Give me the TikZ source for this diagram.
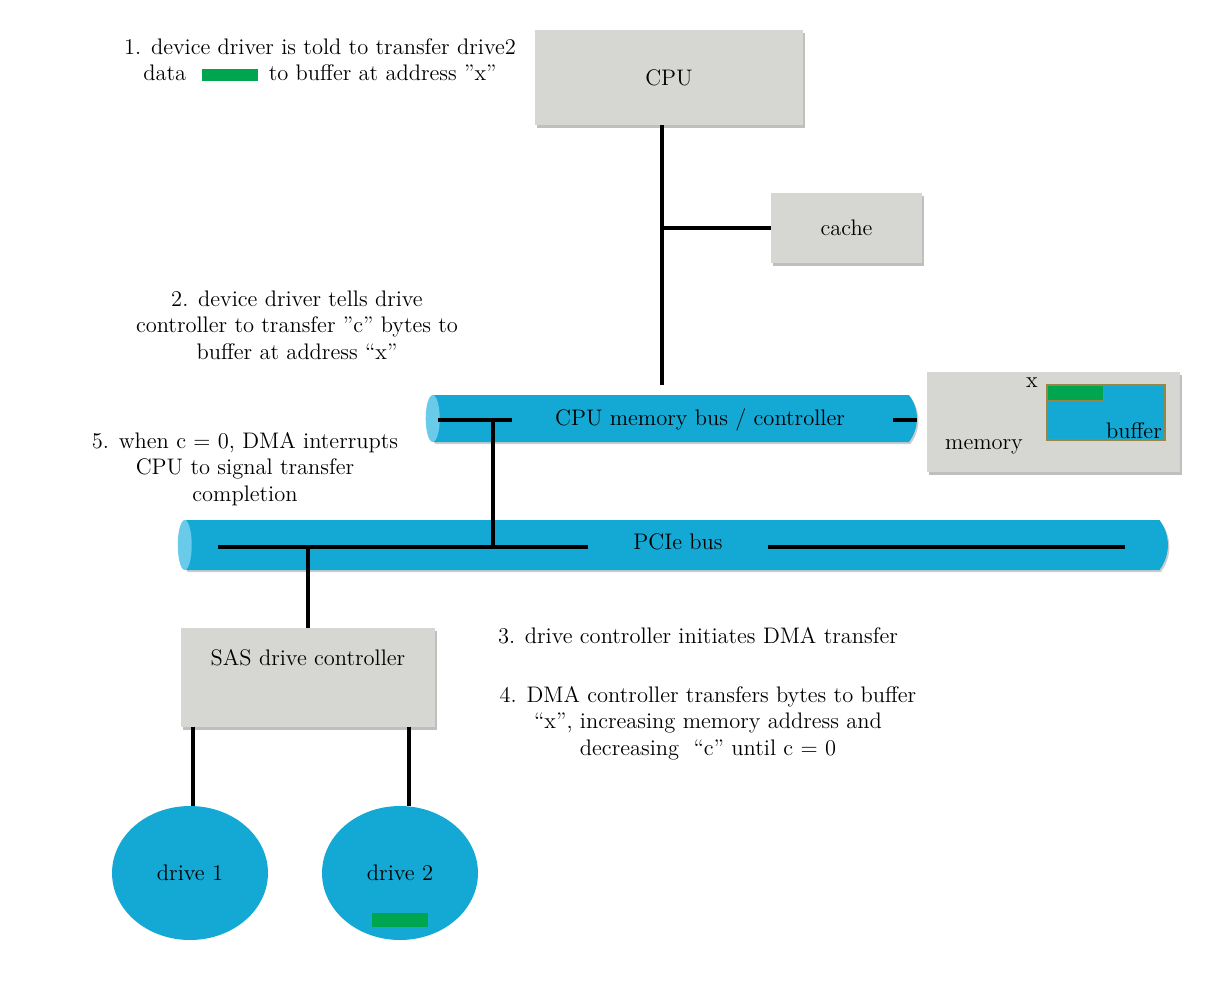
\documentclass[tikz,border=0pt]{standalone}
\usepackage{fontspec}
\usepackage{tikz}
\usetikzlibrary{shapes.geometric,shapes.misc,shadows}
\definecolor{busblue}{RGB}{20,168,212}
\definecolor{capblue}{RGB}{105,202,234}
\definecolor{boxgray}{RGB}{214,214,210}
\definecolor{datagreen}{RGB}{0,165,80}
\definecolor{bufedge}{RGB}{150,135,70}

\begin{document}
\begin{tikzpicture}[
                x=0.02cm, y=-0.02cm,
                font=\fontsize{12.8}{15}\selectfont,
                unit/.style={rectangle,fill=boxgray,drop shadow={shadow xshift=1.2pt,shadow yshift=-1.5pt,fill=black,opacity=0.25}},
                bus/.style={rounded rectangle,rounded rectangle arc length=75,fill=busblue,inner sep=0pt,drop shadow={shadow xshift=0.8pt,shadow yshift=-1.2pt,fill=black,opacity=0.2}},
                busend/.style={fill=capblue},
                drive/.style={ellipse,fill=busblue,minimum width=3.12cm,minimum height=2.68cm},
                chip/.style={rectangle,fill=datagreen,inner sep=0pt,minimum width=1.14cm,minimum height=0.28cm},
                wire/.style={line width=1.8pt},
                note/.style={align=center}
            ]
                \useasboundingbox (0,0) rectangle (1211,985);
                \node[bus,minimum width=9.82cm,minimum height=0.94cm] (membus) at (671.5,418.5) {};
                \node[bus,minimum width=19.8cm,minimum height=1cm] (pcie) at (673,545) {};
                \fill[busend] ([xshift=0.14cm]membus.west) ellipse [x radius=0.14cm, y radius=0.47cm];
                \fill[busend] ([xshift=0.14cm]pcie.west) ellipse [x radius=0.14cm, y radius=0.5cm];
                \node (membuslabel) at (700,420) {CPU memory bus / controller};
                \node (pcielabel) at (678,542) {PCIe bus};
                \node[unit,minimum width=5.36cm,minimum height=1.9cm] (cpu) at (669,77.5) {CPU};
                \node[unit,minimum width=3.02cm,minimum height=1.4cm] (cache) at (846.5,228) {cache};
                \node[unit,minimum width=5.06cm,minimum height=2cm] (mem) at (1053.5,422) {};
                \node[rectangle,fill=busblue,draw=bufedge,line width=0.8pt,minimum width=2.36cm,minimum height=1.1cm] (buffer) at (1106,412.5) {};
                \node[chip,draw=bufedge,minimum width=1.12cm,minimum height=0.3cm] (bufdata) at (1075,392.5) {};
                \node (bufferlabel) at (1134,431) {buffer};
                \node (xlabel) at (1032,383) {x};
                \node (memlabel) at (984,447) {memory};
                \node[unit,minimum width=5.08cm,minimum height=1.98cm,label={[anchor=center,yshift=-17pt]north:SAS drive controller}] (sas) at (308,677.5) {};
                \node[drive] (drv1) at (190,873) {drive 1};
                \node[drive] (drv2) at (400,873) {drive 2};
                \node[chip] (drvdata) at (400,920) {};

                \coordinate (cputap) at (662,228);
                \coordinate (cpulow) at (662,385);
                \coordinate (mbA) at (438,420);
                \coordinate (mbB) at (512,420);
                \coordinate (mbC) at (893,420);
                \coordinate (mbD) at (917,420);
                \coordinate (mbtap) at (493,420);
                \coordinate (pcA) at (218,547);
                \coordinate (pcB) at (588,547);
                \coordinate (pcC) at (768,547);
                \coordinate (pcD) at (1125,547);
                \coordinate (sasA) at (193,727);
                \coordinate (sasB) at (409,727);

                \draw[wire] (cpu.south -| cpulow) -- (cpulow);
                \draw[wire] (cputap) -- (cache.west);
                \foreach \a/\b in {mbA/mbB, mbC/mbD, pcA/pcB, pcC/pcD}
                    {
                    \draw[wire] (\a) -- (\b);
                }
                \draw[wire] (mbtap) -- (mbtap |- pcA);
                \draw[wire] (sas.north) -- (sas.north |- pcA);
                \draw[wire] (sasA) -- (sasA |- drv1.north);
                \draw[wire] (sasB) -- (sasB |- drv2.north);

                \node[note] (step1) at (320,60) {1. device driver is told to transfer drive2\\ data\hspace{9pt}\textcolor{datagreen}{\rule{32pt}{7pt}}\hspace{6pt}to buffer at address ”x”};
                \node[note] (step2) at (297,325) {2. device driver tells drive\\ controller to transfer ”c” bytes to\\ buffer at address “x”};
                \node[note] (step5) at (245,469) {5. when c = 0, DMA interrupts\\ CPU to signal transfer\\ completion};
                \node[note] (step3) at (698,636) {3. drive controller initiates DMA transfer};
                \node[note] (step4) at (708,723) {4. DMA controller transfers bytes to buffer\\ “x”, increasing memory address and\\ decreasing\hspace{4pt} “c” until c = 0};
            \end{tikzpicture}
\end{document}
